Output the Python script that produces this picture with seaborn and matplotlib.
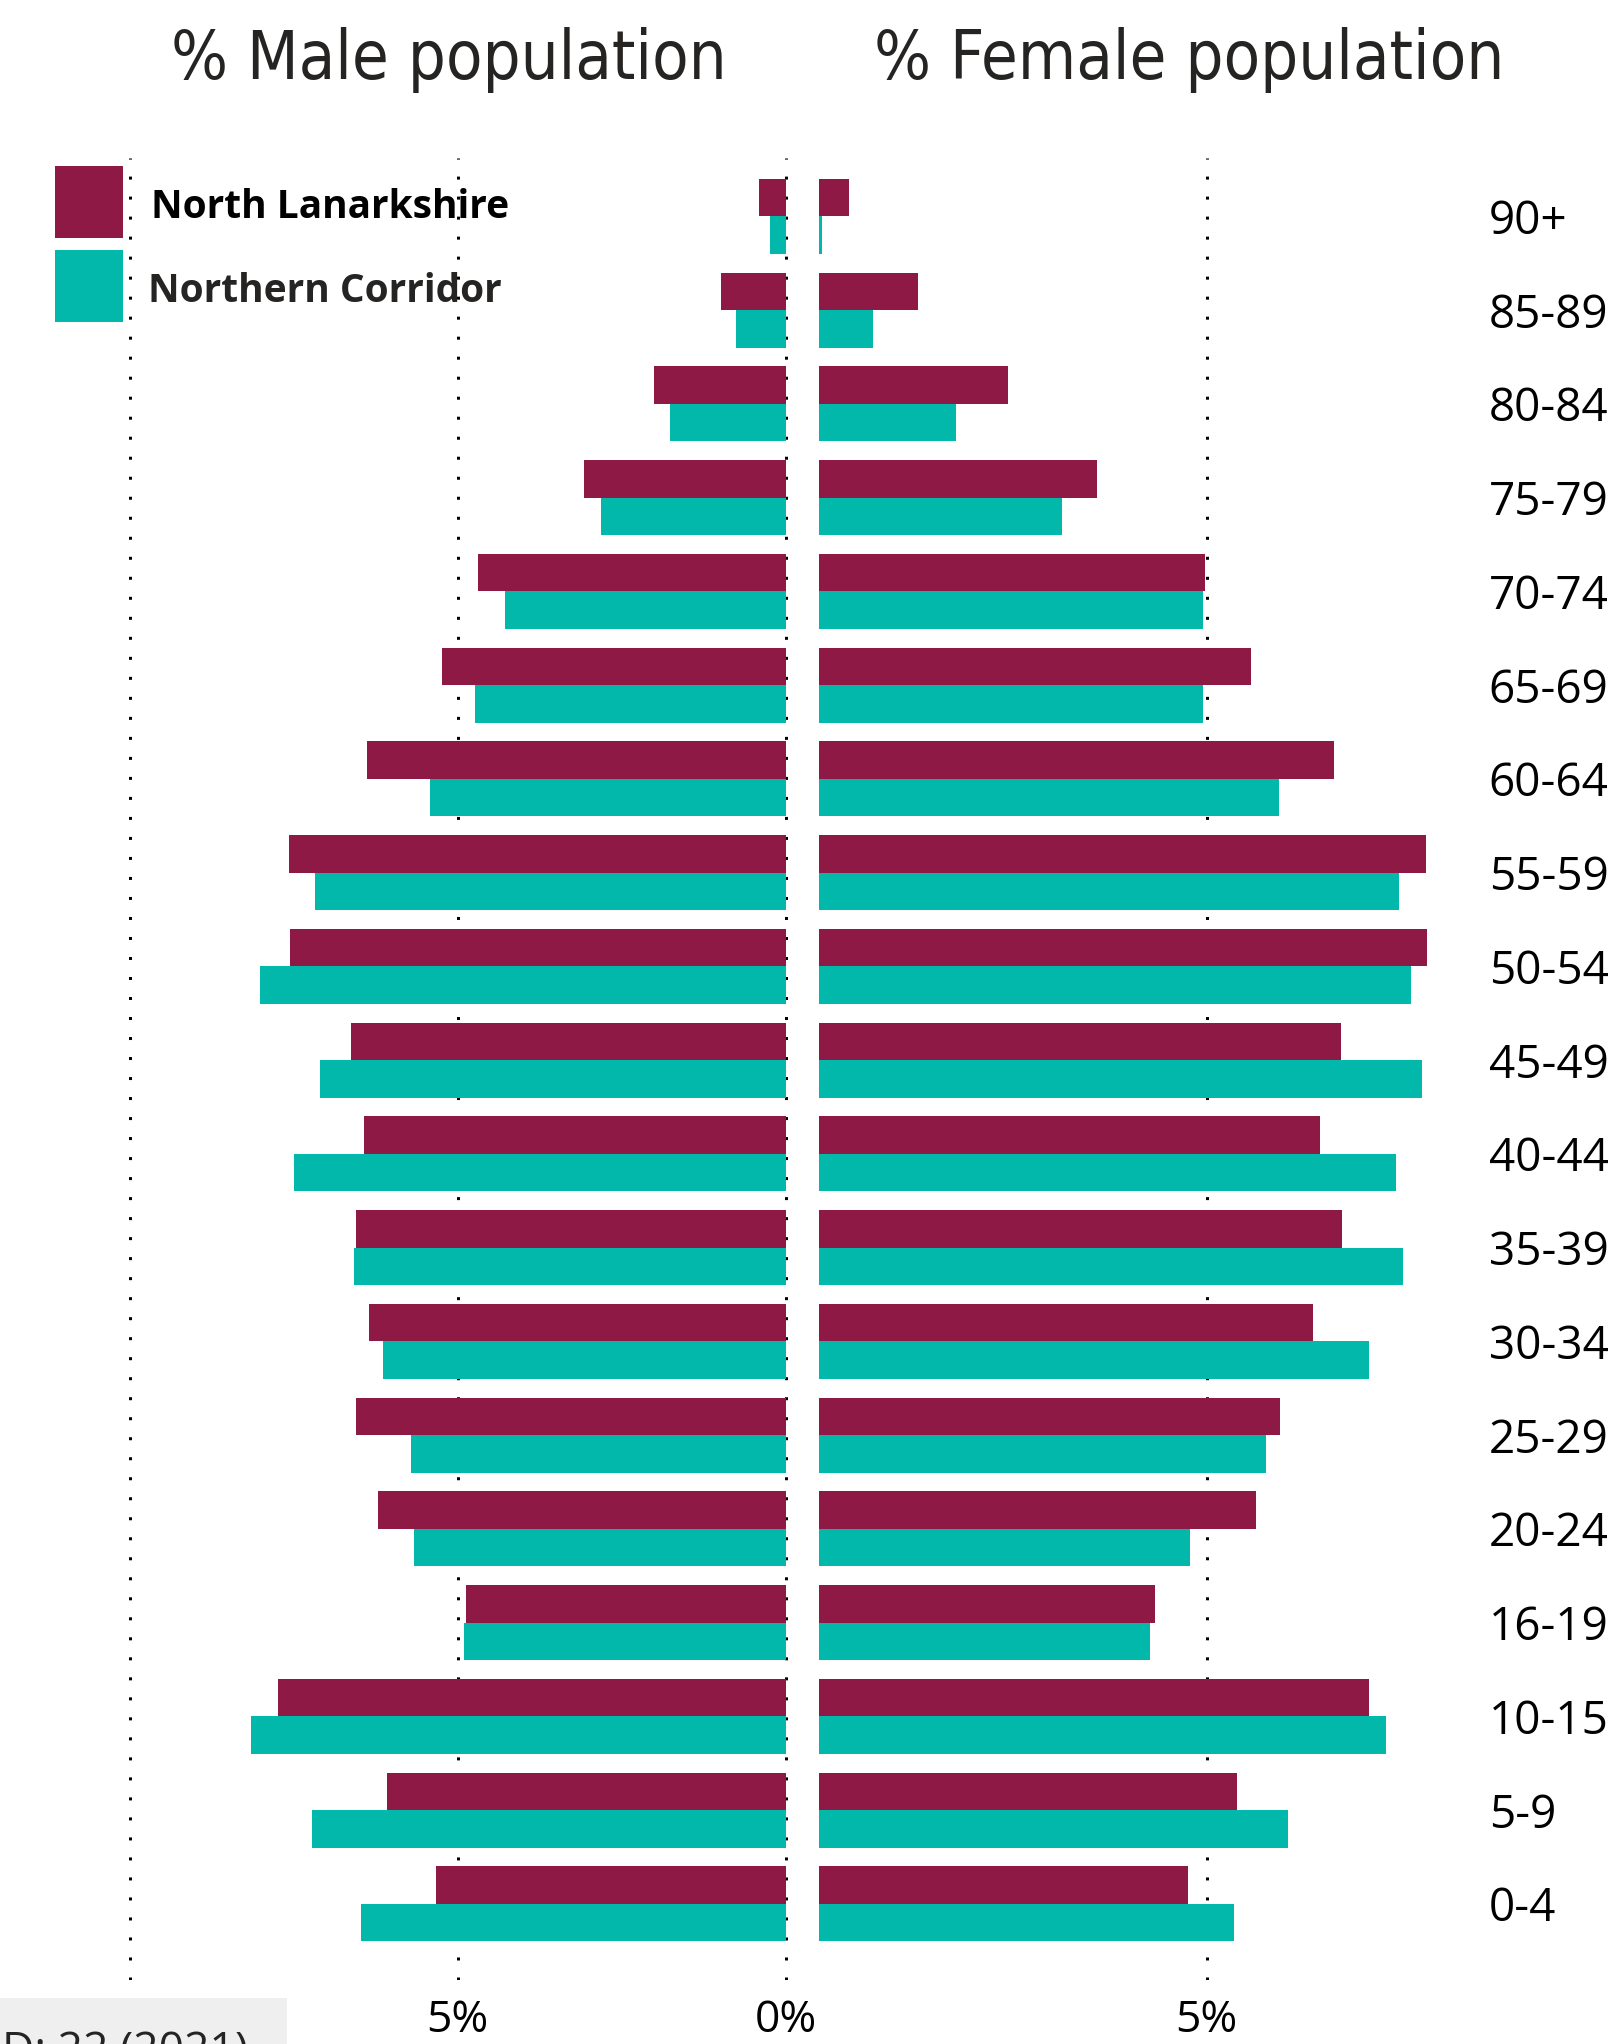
import matplotlib
matplotlib.use("Agg")
import matplotlib.pyplot as plt
from matplotlib import font_manager as fm
from matplotlib.patches import Rectangle
import seaborn as sns
import pandas as pd

# ---------------- data ----------------
ages = ["90+", "85-89", "80-84", "75-79", "70-74", "65-69", "60-64", "55-59", "50-54",
        "45-49", "40-44", "35-39", "30-34", "25-29", "20-24", "16-19", "10-15", "5-9", "0-4"]
areas = ["North Lanarkshire", "Northern Corridor"]

male_nl = [0.40, 0.98, 2.00, 3.07, 4.69, 5.24, 6.38, 7.57, 7.56, 6.63, 6.43, 6.56, 6.35,
           6.56, 6.21, 4.87, 7.74, 6.08, 5.33]
male_nc = [0.24, 0.75, 1.77, 2.82, 4.28, 4.73, 5.42, 7.18, 8.02, 7.10, 7.50, 6.58, 6.14,
           5.72, 5.67, 4.90, 8.15, 7.22, 6.47]
female_nl = [0.385, 1.28, 2.44, 3.59, 4.98, 5.58, 6.65, 7.83, 7.84, 6.74, 6.47, 6.75, 6.38,
             5.95, 5.64, 4.33, 7.10, 5.39, 4.76]
female_nc = [0.04, 0.70, 1.77, 3.14, 4.96, 4.96, 5.93, 7.49, 7.64, 7.78, 7.45, 7.54, 7.10,
             5.77, 4.79, 4.27, 7.32, 6.05, 5.36]

male_ticks = [0, 5, 10]
male_tick_labels = ["0%", "5%", ""]
female_ticks = [5]
female_tick_labels = ["5%"]

titles = ["% Male population", "% Female population"]
footer_text = "D: 22 (2021)"

colors = ["#8E1944", "#01B8AA"]

# ---------------- style ----------------
sns.set_theme(style="white")
available = {f.name for f in fm.fontManager.ttflist}
body_font = "Open Sans" if "Open Sans" in available else "DejaVu Sans"
legend_font = body_font
if "Liberation Sans Narrow" in available:
    title_kw = dict(family="Liberation Sans Narrow")
else:
    title_kw = dict(family="DejaVu Sans", fontstretch="condensed")
plt.rcParams["font.family"] = [body_font, "DejaVu Sans"]

W, H = 1618, 2044
fig = plt.figure(figsize=(W / 100, H / 100), dpi=100)
fig.patch.set_facecolor("white")


def fx(px):
    return px / W


def fy(py):
    return 1 - py / H


ax_top, ax_bot = 158, 1980
# left (male) axes
lx0, lx1 = 100, 789.5
axL = fig.add_axes([fx(lx0), fy(ax_bot), fx(lx1 - lx0), (ax_bot - ax_top) / H])
# right (female) axes
rx0, rx1 = 819, 1470
axR = fig.add_axes([fx(rx0), fy(ax_bot), fx(rx1 - rx0), (ax_bot - ax_top) / H])

df_m = pd.DataFrame({"age": ages * 2,
                     "area": [areas[0]] * len(ages) + [areas[1]] * len(ages),
                     "pct": male_nl + male_nc})
df_f = pd.DataFrame({"age": ages * 2,
                     "area": [areas[0]] * len(ages) + [areas[1]] * len(ages),
                     "pct": female_nl + female_nc})

for ax, df in ((axL, df_m), (axR, df_f)):
    sns.barplot(data=df, y="age", x="pct", hue="area", order=ages, hue_order=areas,
                palette=colors, width=0.8, orient="h", saturation=1, ax=ax,
                legend=False, linewidth=0)
    for s in ax.spines.values():
        s.set_visible(False)
    ax.set_xlabel("")
    ax.set_ylabel("")
    ax.set_axisbelow(True)
    ax.grid(axis="x", color="black", linestyle=(0, (1, 5.67)), linewidth=2.16)
    ax.grid(axis="y", visible=False)
    ax.set_ylim(18.813, -0.624)
    ax.tick_params(axis="x", length=0, labelsize=32, pad=13, colors="black")

axL.set_xlim(10.458, -0.06)
axL.set_xticks(male_ticks)
axL.set_xticklabels(male_tick_labels)
axL.set_yticks([])

axR.set_xlim(0, 8.40)
axR.set_xticks(female_ticks)
axR.set_xticklabels(female_tick_labels)
axR.yaxis.tick_right()
axR.set_yticks(range(len(ages)))
axR.set_yticklabels(ages)
axR.tick_params(axis="y", length=0, labelsize=33, pad=13.5, colors="black")

# titles
fig.text(fx(449), fy(60), titles[0], ha="center", va="center", fontsize=48,
         color="#252423", **title_kw)
fig.text(fx(1189), fy(60), titles[1], ha="center", va="center", fontsize=48,
         color="#252423", **title_kw)

# legend
leg_items = [(166, 237.7, 151, 208, "#000000"), (250, 321.7, 148, 292, "#252423")]
for (top, bot, tx, ty, tc), col, name in zip(leg_items, colors, areas):
    fig.add_artist(Rectangle((fx(55), fy(bot)), fx(123 - 55), (bot - top) / H,
                             transform=fig.transFigure, color=col, lw=0))
    fig.text(fx(tx), fy(ty), name, ha="left", va="center", fontsize=28,
             fontweight="bold", color=tc, family=[legend_font, "DejaVu Sans"])

# footer box (partially visible in source)
fig.add_artist(Rectangle((0, 0), fx(287), 46 / H, transform=fig.transFigure,
                         color="#EFEFEF", lw=0))
fig.text(fx(2), fy(2030), footer_text, ha="left", va="top", fontsize=32, color="#252423")

fig.savefig("out.png", dpi=100, facecolor="white")
